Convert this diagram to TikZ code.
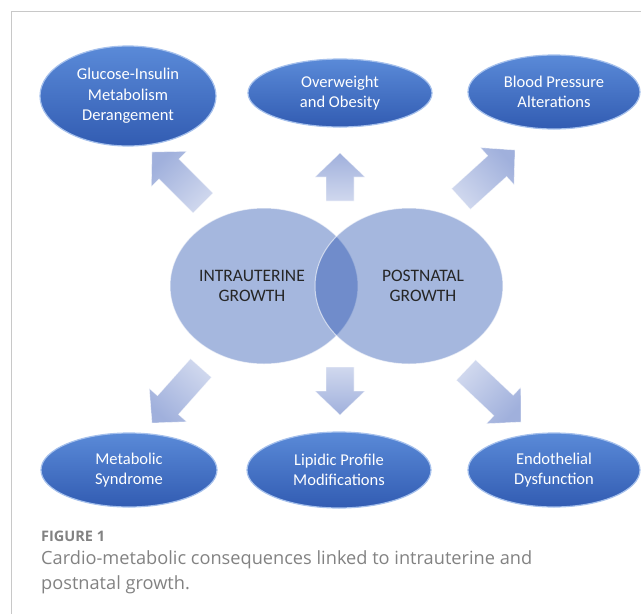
\documentclass[tikz,border=0pt]{standalone}
\usepackage{fontspec}
\setmainfont{Carlito}
\newfontfamily\capfont{Open Sans}
\usetikzlibrary{shapes.geometric,calc}

\definecolor{ovaltop}{RGB}{90,138,216}
\definecolor{ovalbot}{RGB}{50,92,178}
\definecolor{ovalrim}{RGB}{165,192,236}
\definecolor{ringfill}{RGB}{36,80,175}
\definecolor{arrowtip}{RGB}{160,176,220}
\definecolor{arrowtail}{RGB}{208,216,238}
\definecolor{captiongray}{RGB}{130,130,130}
\definecolor{framegray}{RGB}{200,200,200}

% block arrow from a tail coordinate to a tip coordinate; #3 = direction angle
\newcommand\blockarrow[3]{%
  \coordinate (ba-h) at ($(#2)!24pt!(#1)$);
  \shade[bottom color=arrowtail, top color=arrowtip, shading angle=#3-90,
         draw=white, draw opacity=0.55, line width=0.6pt]
    ($(#1)!14pt!90:(#2)$) -- ($(ba-h)!14pt!90:(#2)$) -- ($(ba-h)!25pt!90:(#2)$)
    -- (#2) -- ($(ba-h)!25pt!-90:(#2)$) -- ($(ba-h)!14pt!-90:(#2)$)
    -- ($(#1)!14pt!-90:(#2)$) -- cycle;
}

\begin{document}
\begin{tikzpicture}[x=1pt,y=1pt,
  oval/.style={ellipse, inner sep=0pt, top color=ovaltop, bottom color=ovalbot,
    draw=ovalrim, line width=1.2pt, text=white, align=center,
    font=\fontsize{16.5}{20.5}\selectfont},
  ring/.style={ellipse, inner sep=0pt, minimum width=188pt, minimum height=156pt,
    fill=ringfill, fill opacity=0.41, draw=white, draw opacity=0.6, line width=1pt},
  ringlabel/.style={align=center, text=black!85, font=\fontsize{17.5}{20.5}\selectfont},
  caption/.style={anchor=base west, text=captiongray, inner sep=0pt},
]
\useasboundingbox (0,0) rectangle (641,-614);
\draw[framegray, line width=1pt] (11.5,-614) -- (11.5,-11.5) -- (641,-11.5);

% central overlapping growth circles
\node[ring] (intra) at (264,-286) {};
\node[ring] (post) at (409,-286) {};
\node[ringlabel] (intralabel) at (252,-286) {INTRAUTERINE\\GROWTH};
\node[ringlabel] (postlabel) at (423,-286) {POSTNATAL\\GROWTH};

% outcome ovals
\node[oval, minimum width=176pt, minimum height=100pt] (glucose) at (128,-96)
  {Glucose-Insulin\\Metabolism\\Derangement};
\node[oval, minimum width=184pt, minimum height=68pt] (obesity) at (340,-93)
  {Overweight\\and Obesity};
\node[oval, minimum width=172pt, minimum height=74pt] (pressure) at (554,-92)
  {Blood Pressure\\Alterations};
\node[oval, minimum width=176pt, minimum height=74pt] (metabolic) at (129,-470)
  {Metabolic\\Syndrome};
\node[oval, minimum width=184pt, minimum height=76pt] (lipidic) at (339,-470)
  {Lipidic Profile\\Modifications};
\node[oval, minimum width=172pt, minimum height=74pt] (endo) at (554,-470)
  {Endothelial\\Dysfunction};

% arrow ends
\coordinate (ulTail) at (203,-203); \coordinate (ulTip) at (152,-152);
\coordinate (uTail) at (340,-201);  \coordinate (uTip) at (340,-153);
\coordinate (urTail) at (461,-199); \coordinate (urTip) at (515,-150);
\coordinate (dlTail) at (201,-368); \coordinate (dlTip) at (152,-423);
\coordinate (dTail) at (340,-367);  \coordinate (dTip) at (340,-415);
\coordinate (drTail) at (466,-370); \coordinate (drTip) at (521,-422);

\blockarrow{ulTail}{ulTip}{135}
\blockarrow{uTail}{uTip}{90}
\blockarrow{urTail}{urTip}{42}
\blockarrow{dlTail}{dlTip}{-132}
\blockarrow{dTail}{dTip}{-90}
\blockarrow{drTail}{drTip}{-43}

% caption
\node[caption, font=\capfont\bfseries\fontsize{14.5}{16}\selectfont] (figno) at (41,-541) {FIGURE 1};
\node[caption, font=\capfont\fontsize{18.2}{25}\selectfont] (cap1) at (41,-564)
  {Cardio-metabolic consequences linked to intrauterine and};
\node[caption, font=\capfont\fontsize{18.2}{25}\selectfont] (cap2) at (41,-589)
  {postnatal growth.};
\end{tikzpicture}
\end{document}
